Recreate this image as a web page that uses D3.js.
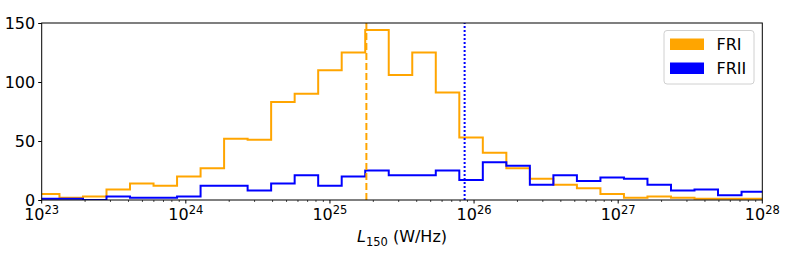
<!DOCTYPE html>
<html>
<head>
<meta charset="utf-8">
<script src="https://cdn.jsdelivr.net/npm/d3@7"></script>
<style>
  body { margin: 0; background: #fff; }
  text { font-family: "DejaVu Sans", sans-serif; }
</style>
</head>
<body>
<div id="chart"></div>
<script>
// histogram bins, log10(L150) edges
var binStart = 22.96
var binWidth = 0.1632
var fri = [5, 2, 3, 9, 14, 12, 20, 27, 52, 51, 83, 90, 110, 125, 144, 106, 125, 91, 53, 40,
    27, 18, 13, 10, 5, 2, 3, 2, 1, 1, 1]
var frii = [1, 1, 0, 3, 2, 2, 3, 12, 12, 8, 14, 21, 12, 20, 25, 21, 21, 25, 17, 32,
    29, 13, 21, 16, 19, 18, 13, 8, 9, 4, 7]
var medians = [1.79e25, 8.6e25]   // FRI, FRII
var yTicks = [0, 50, 100, 150]
var xTickExp = [23, 24, 25, 26, 27, 28]

var width = 789, height = 264
var m = {left: 41.7, right: 26.7, top: 23, bottom: 64}

var svg = d3.select("#chart").append("svg")
    .attr("width", width)
    .attr("height", height)

var x = d3.scaleLog().domain([1e23, 1e28]).range([m.left, width - m.right])
var y = d3.scaleLinear().domain([0, 150]).range([height - m.bottom, m.top])

var edges = d3.range(fri.length + 1).map(function (i) { return Math.pow(10, binStart + i * binWidth) })

svg.append("clipPath").attr("id", "clip")
    .append("rect")
    .attr("x", m.left).attr("y", m.top - 5)
    .attr("width", width - m.left - m.right).attr("height", height - m.top - m.bottom + 5)

// step outline like histtype='step'
function stepPath(counts) {
    var pts = [[edges[0], 0]]
    counts.forEach(function (c, i) {
        pts.push([edges[i], c])
        pts.push([edges[i + 1], c])
    })
    pts.push([edges[counts.length], 0])
    return d3.line().x(function (d) { return x(d[0]) }).y(function (d) { return y(d[1]) })(pts)
}

var plot = svg.append("g").attr("clip-path", "url(#clip)")

plot.append("path")
    .attr("d", stepPath(fri))
    .attr("fill", "none")
    .attr("stroke", "orange")
    .attr("stroke-width", 2)

plot.append("path")
    .attr("d", stepPath(frii))
    .attr("fill", "none")
    .attr("stroke", "blue")
    .attr("stroke-width", 2)

// median lines
plot.append("line")
    .attr("x1", x(medians[0])).attr("x2", x(medians[0]))
    .attr("y1", y(0)).attr("y2", y(150))
    .attr("stroke", "orange").attr("stroke-width", 2)
    .attr("stroke-dasharray", "7,3")

plot.append("line")
    .attr("x1", x(medians[1])).attr("x2", x(medians[1]))
    .attr("y1", y(0)).attr("y2", y(150))
    .attr("stroke", "blue").attr("stroke-width", 2)
    .attr("stroke-dasharray", "2,2")

// frame
svg.append("rect")
    .attr("x", m.left).attr("y", m.top)
    .attr("width", width - m.left - m.right)
    .attr("height", height - m.top - m.bottom)
    .attr("fill", "none")
    .attr("stroke", "black")
    .attr("stroke-width", 1)

// y axis
var yAxis = svg.append("g")
    .attr("transform", "translate(" + m.left + ",0)")
    .call(d3.axisLeft(y).tickValues(yTicks).tickSize(3.5).tickPadding(3))
yAxis.select(".domain").remove()
yAxis.selectAll("text").attr("font-size", 16).attr("fill", "black")
    .style("font-family", "DejaVu Sans")

// x axis minor ticks
var minor = []
xTickExp.slice(0, -1).forEach(function (e) {
    d3.range(2, 10).forEach(function (k) { minor.push(k * Math.pow(10, e)) })
})
var xg = svg.append("g").attr("transform", "translate(0," + y(0) + ")")
xg.selectAll(".minor").data(minor).enter().append("line")
    .attr("x1", function (d) { return x(d) }).attr("x2", function (d) { return x(d) })
    .attr("y1", 0).attr("y2", 2)
    .attr("stroke", "black").attr("stroke-width", 0.7)
xg.selectAll(".major").data(xTickExp).enter().append("line")
    .attr("x1", function (d) { return x(Math.pow(10, d)) }).attr("x2", function (d) { return x(Math.pow(10, d)) })
    .attr("y1", 0).attr("y2", 3.5)
    .attr("stroke", "black").attr("stroke-width", 1)

var lbl = xg.selectAll(".lbl").data(xTickExp).enter().append("text")
    .attr("x", function (d) { return x(Math.pow(10, d)) })
    .attr("y", 20)
    .attr("text-anchor", "middle")
    .attr("font-size", 16)
lbl.append("tspan").text("10")
lbl.append("tspan").attr("font-size", 11.5).attr("dy", -6.5).text(function (d) { return d })

// x label
var xl = svg.append("text")
    .attr("x", (m.left + width - m.right) / 2)
    .attr("y", 242)
    .attr("text-anchor", "middle")
    .attr("font-size", 16)
xl.append("tspan").attr("font-style", "italic").text("L")
xl.append("tspan").attr("font-size", 11.5).attr("dy", 3.5).text("150")
xl.append("tspan").attr("dy", -3.5).text(" (W/Hz)")

// legend
var leg = svg.append("g").attr("transform", "translate(664,30.5)")
leg.append("rect")
    .attr("width", 90).attr("height", 53.5)
    .attr("rx", 3)
    .attr("fill", "white").attr("fill-opacity", 0.8)
    .attr("stroke", "#d0d0d0").attr("stroke-width", 1)
var items = [["FRI", "orange"], ["FRII", "blue"]]
items.forEach(function (it, i) {
    leg.append("rect")
        .attr("x", 6).attr("y", 8 + i * 24)
        .attr("width", 34).attr("height", 11.5)
        .attr("fill", it[1])
    leg.append("text")
        .attr("x", 52.5).attr("y", 19.5 + i * 24)
        .attr("font-size", 16)
        .text(it[0])
})
</script>
</body>
</html>
